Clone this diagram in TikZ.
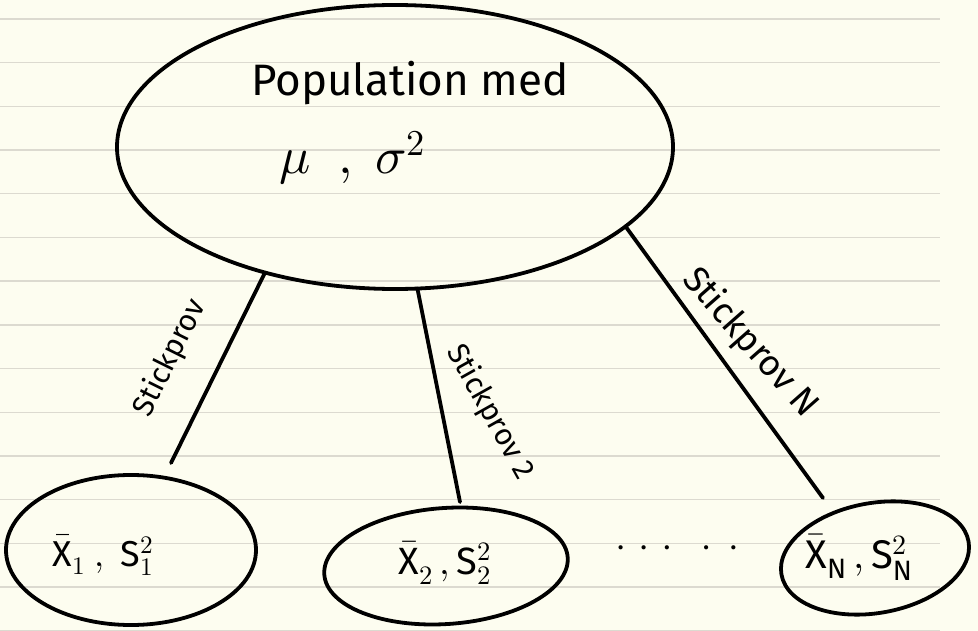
\documentclass[tikz,border=0pt]{standalone}
\usepackage{fontspec}
\usepackage{unicode-math}
\setmainfont{Fira Sans}
\setmathfont{Latin Modern Math}
\usetikzlibrary{shapes.geometric}
\definecolor{paper}{HTML}{FDFDF0}
\definecolor{ruling}{HTML}{DCDAD0}
\begin{document}
\begin{tikzpicture}[x=1pt,y=1pt,
  ink/.style={line width=3.8pt, black, line cap=round},
  bubble/.style={draw, ellipse, line width=3.8pt, inner sep=0pt, outer sep=0pt},
  hand/.style={inner sep=0pt, text=black},
  lbl/.style={inner sep=0pt, text=black, font=\fontsize{30}{34}\selectfont}]
\fill[paper] (0,0) rectangle (978,-631);
\useasboundingbox (0,0) rectangle (978,-631);
\foreach \k in {0,...,14} \draw[ruling, line width=1.4pt] (0,{-19-43.7*\k}) -- (940,{-19-43.7*\k});
% ellipses
\node[bubble, minimum width=556pt, minimum height=284pt] (pop) at (395,-147) {};
\node[bubble, minimum width=250pt, minimum height=150pt] (e1) at (131,-550) {};
\node[bubble, minimum width=244pt, minimum height=116pt, rotate=4] (e2) at (446,-566) {};
\node[bubble, minimum width=190pt, minimum height=110pt, rotate=10] (e3) at (875,-558) {};
% texts
\node[hand, font=\fontsize{44}{50}\selectfont] (poptxt) at (410,-83) {Population med};
\node[hand, font=\fontsize{52}{58}\selectfont] (popmath) at (352,-158) {$\mu\ \ ,\ \sigma^2$};
\node[hand, font=\fontsize{36}{42}\selectfont] (t1) at (103,-555) {$\bar{\mathrm{X}}_1\ ,\ \mathrm{S}_1^2$};
\node[hand, font=\fontsize{38}{44}\selectfont] (t2) at (445,-563) {$\bar{\mathrm{X}}_2\,,\mathrm{S}_2^2$};
\node[hand, font=\fontsize{40}{46}\selectfont] (t3) at (859,-557) {$\bar{\mathrm{X}}_{\mathrm{N}}\,,\mathrm{S}_{\mathrm{N}}^2$};
\node[hand, font=\fontsize{30}{34}\selectfont] (dots) at (677,-548) {.\hspace{16pt}.\hspace{16pt}.\hspace{32pt}.\hspace{20pt}.};
% connector ends
\coordinate (c1) at (171,-463);
\coordinate (c2) at (460,-502);
\coordinate (c3) at (823,-498);
\draw[ink] (pop.224) -- (c1);
\draw[ink] (pop.279) -- (c2);
\draw[ink] (pop.341) -- (c3);
% labels
\node[lbl, rotate=63.6] (l1) at (170,-358) {Stickprov};
\node[lbl, rotate=-60.7] (l2) at (490,-412) {Stickprov 2};
\node[lbl, rotate=-48.6, font=\fontsize{36}{40}\selectfont] (l3) at (750,-343) {Stickprov N};
\end{tikzpicture}
\end{document}
